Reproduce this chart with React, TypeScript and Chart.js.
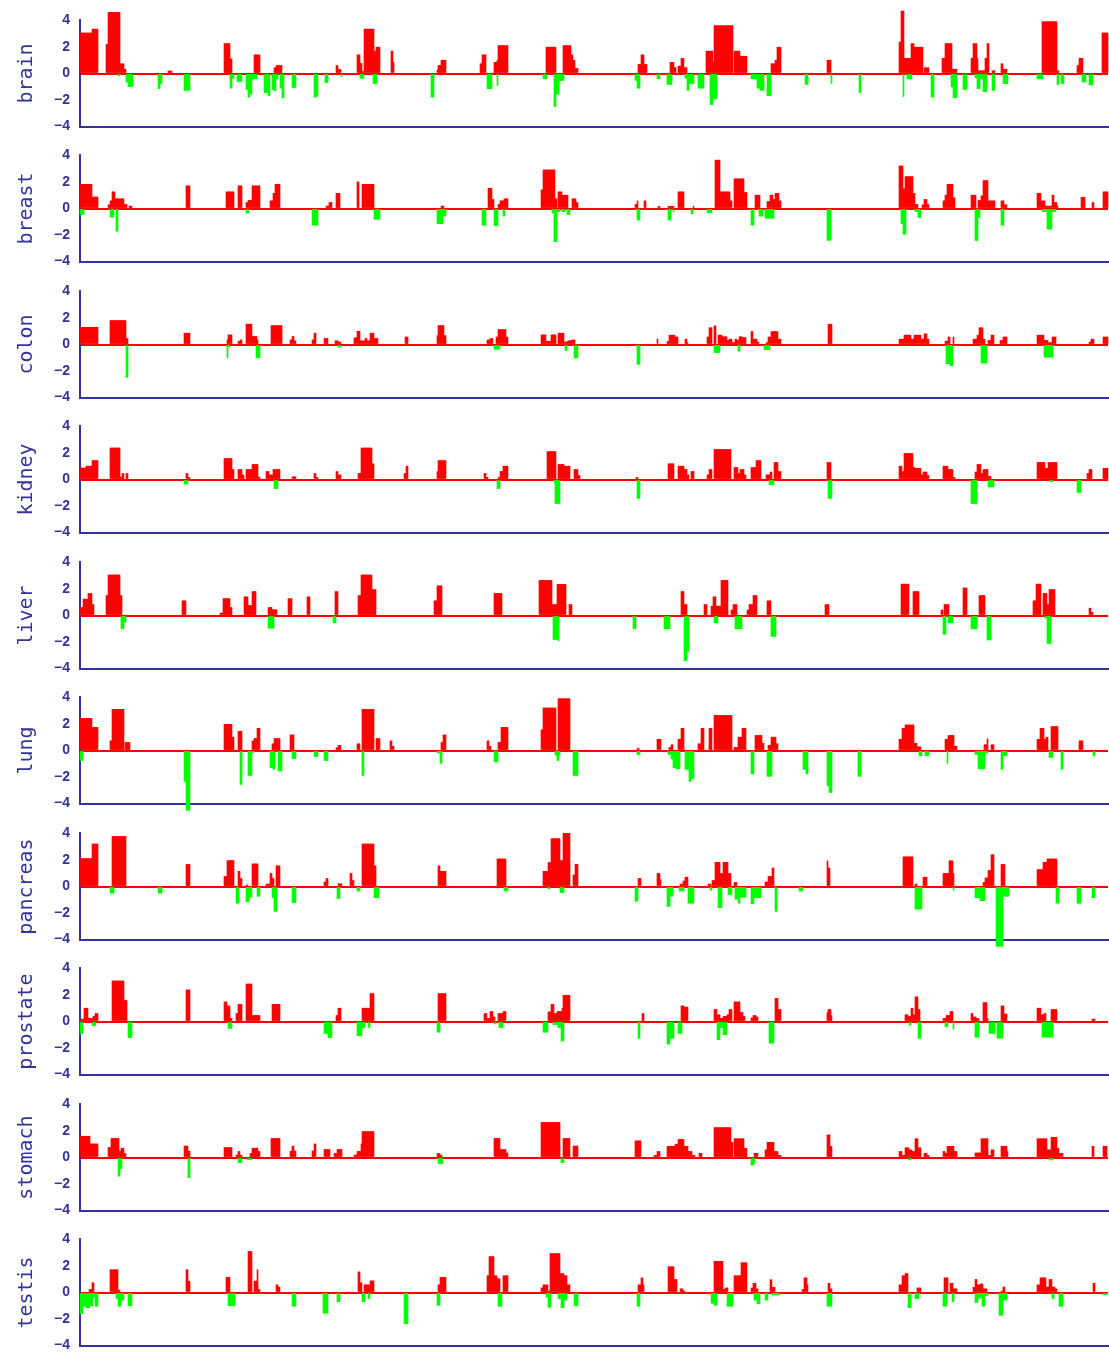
import React, { useEffect, useRef } from 'react';
import { Chart, registerables } from 'chart.js';

Chart.register(...registerables);

// ---- data -------------------------------------------------------------
// Genome position runs 0..genomeLength; each segment is [start, end, log-ratio].
const genomeLength = 1028;
const tissues = ['brain', 'breast', 'colon', 'kidney', 'liver', 'lung', 'pancreas', 'prostate', 'stomach', 'testis'];
const yTickValues = [4, 2, 0, -2, -4];
const yTickLabels = ['4', '2', '0', '\u22122', '\u22124'];

const brainGain = [[0,12,3.05],[12,18,3.34],[26,28,2.2],[28,40,4.6],[40,44,0.73],[44,46,0.32],[88,92,0.18],[144,150,2.25],[150,152,1.1],[174,180,1.4],[194,196,0.43],[196,202,0.6],[256,258,0.6],[258,261,0.3],[277,280,1.4],[280,282,0.77],[282,284,0.15],[284,294,3.34],[294,296,1.68],[296,300,1.98],[311,313,1.68],[313,314,0.84],[357,358,0.27],[358,361,0.6],[361,366,1.0],[400,402,0.73],[402,406,1.4],[414,417,0.84],[417,418,1.0],[418,428,2.1],[466,476,1.98],[483,491,2.1],[491,493,1.4],[493,495,1.0],[495,498,0.39],[558,561,0.68],[561,564,1.4],[564,567,0.68],[590,594,0.84],[594,596,0.45],[598,601,0.55],[601,604,1.14],[604,607,0.43],[626,633,1.68],[633,634,0.84],[634,653,3.6],[654,660,1.68],[660,667,1.3],[691,695,0.73],[695,697,1.0],[697,701,1.98],[747,751,1.0],[819,821,2.36],[821,824,4.7],[824,831,1.14],[831,834,2.25],[834,843,1.98],[844,849,0.43],[862,865,1.14],[865,872,2.25],[872,877,0.32],[891,893,1.14],[893,897,2.25],[897,898,1.14],[898,905,0.2],[905,907,1.14],[907,909,2.25],[912,915,0.2],[921,923,0.73],[923,927,0.32],[962,977,3.9],[977,979,0.2],[997,999,0.6],[999,1003,1.14],[1022,1028,3.05]];
const brainLoss = [[38,40,-0.18],[46,48,-0.64],[48,53,-0.98],[78,80,-1.14],[80,82,-0.75],[104,110,-1.27],[150,152,-1.1],[152,154,-0.36],[157,162,-0.6],[166,168,-1.2],[168,170,-1.77],[170,172,-1.55],[172,177,-0.4],[184,188,-1.43],[188,190,-1.66],[192,194,-1.2],[194,196,-1.3],[196,198,-0.4],[200,202,-1.1],[202,204,-1.84],[212,216,-1.05],[234,237,-1.77],[237,238,-1.66],[245,248,-0.68],[261,262,-0.23],[280,284,-0.36],[293,297,-0.75],[351,354,-1.77],[407,412,-1.14],[417,418,-0.9],[463,467,-0.4],[474,476,-2.5],[476,479,-1.55],[479,484,-0.52],[555,557,-0.52],[557,560,-1.1],[577,580,-0.4],[587,592,-0.82],[605,607,-0.36],[607,609,-1.27],[609,614,-0.75],[618,624,-1.1],[630,633,-2.34],[633,637,-1.9],[671,677,-0.4],[677,680,-1.1],[680,684,-1.27],[687,691,-1.66],[725,728,-0.82],[751,752,-0.75],[779,781,-1.43],[823,824,-1.73],[827,832,-0.4],[851,854,-1.77],[871,873,-1.0],[873,877,-1.82],[883,887,-1.2],[895,897,-0.3],[897,900,-1.14],[900,903,-0.4],[903,907,-1.36],[912,915,-1.27],[923,928,-0.75],[957,963,-0.4],[977,979,-0.82],[981,984,-0.75],[1002,1006,-0.64],[1009,1013,-0.86]];

const breastGain = [[0,12,1.82],[12,18,0.86],[28,30,0.27],[30,32,0.57],[32,35,1.25],[35,44,0.73],[44,47,0.3],[49,52,0.18],[106,110,1.7],[146,154,1.25],[158,162,1.7],[166,168,0.45],[168,172,0.61],[172,180,1.7],[190,193,0.57],[193,195,1.14],[195,200,1.82],[246,249,0.18],[249,252,0.45],[256,260,1.14],[277,279,2.0],[282,294,1.82],[361,364,0.18],[408,412,1.52],[412,414,0.68],[418,420,0.3],[420,424,0.57],[424,428,0.73],[461,463,1.4],[463,475,2.9],[475,477,0.73],[478,482,1.25],[482,488,1.0],[492,496,0.73],[496,498,0.45],[555,557,0.3],[557,558,0.57],[564,566,0.57],[578,580,0.16],[588,594,0.16],[598,604,1.25],[613,614,0.16],[635,640,3.64],[640,650,1.25],[650,652,0.57],[654,664,2.23],[664,667,1.2],[675,680,1.0],[687,690,0.52],[690,693,1.0],[693,695,0.68],[695,699,1.14],[699,701,0.57],[819,823,3.2],[823,825,1.48],[825,833,2.4],[833,835,1.14],[835,838,0.3],[842,844,0.27],[844,847,0.68],[847,849,0.3],[863,865,0.57],[865,867,1.0],[867,873,1.82],[873,875,0.8],[891,896,1.0],[898,901,0.6],[901,903,0.95],[903,908,2.1],[908,915,0.57],[921,924,0.57],[924,927,0.27],[957,961,1.14],[961,965,0.57],[965,972,0.18],[972,974,1.0],[974,977,0.45],[977,978,0.16],[1001,1005,0.84],[1012,1014,0.45],[1023,1028,1.25]];
const breastLoss = [[0,4,-0.45],[30,34,-0.64],[36,38,-1.7],[166,169,-0.34],[232,238,-1.25],[294,300,-0.8],[357,363,-1.14],[363,366,-0.57],[402,406,-1.25],[414,418,-1.3],[423,425,-0.57],[472,474,-0.34],[474,477,-2.5],[477,480,-0.23],[482,485,-0.23],[487,490,-0.45],[557,560,-0.86],[588,591,-0.86],[593,594,-0.23],[611,613,-0.4],[627,632,-0.3],[671,674,-1.25],[679,683,-0.57],[685,694,-0.73],[747,751,-2.4],[821,823,-1.14],[823,826,-1.93],[835,838,-0.23],[838,841,-0.68],[895,898,-2.4],[898,900,-0.68],[921,924,-1.25],[962,967,-0.23],[967,972,-1.55],[972,976,-0.23]];

const colonGain = [[0,18,1.3],[30,46,1.8],[46,48,0.45],[104,110,0.85],[147,148,0.34],[148,152,0.72],[158,160,0.23],[160,162,0.34],[166,172,1.53],[172,177,0.6],[177,178,0.34],[191,202,1.42],[210,212,0.34],[212,214,0.6],[214,216,0.27],[232,234,0.34],[234,236,0.85],[244,248,0.45],[255,258,0.27],[258,261,0.18],[274,277,0.5],[277,280,1.0],[280,285,0.27],[285,287,0.45],[287,290,0.27],[290,294,0.85],[294,298,0.45],[325,328,0.56],[357,358,0.67],[358,364,1.42],[364,366,0.67],[407,410,0.34],[410,413,0.45],[416,418,0.56],[418,426,1.12],[426,428,0.56],[461,466,0.72],[466,471,0.23],[471,476,0.72],[478,484,0.85],[484,487,0.18],[487,489,0.23],[489,492,0.3],[492,495,0.34],[577,578,0.4],[587,589,0.23],[589,595,0.7],[595,598,0.56],[605,607,0.4],[607,608,0.14],[627,629,0.56],[629,632,1.26],[634,636,1.4],[638,642,0.7],[642,647,0.58],[647,649,0.3],[649,652,0.4],[652,655,0.14],[655,657,0.4],[657,659,0.3],[659,662,0.58],[662,666,0.52],[671,673,0.97],[673,677,0.4],[677,679,0.18],[686,688,0.14],[688,691,0.56],[691,698,0.97],[698,701,0.4],[748,752,1.53],[819,824,0.4],[824,831,0.7],[831,834,0.4],[834,841,0.7],[841,844,0.4],[844,847,0.8],[847,849,0.4],[865,868,0.25],[868,870,0.56],[873,874,0.56],[893,897,0.4],[897,899,0.7],[899,903,1.26],[903,905,0.4],[908,911,0.3],[911,914,0.7],[920,923,0.3],[923,927,0.56],[957,964,0.7],[964,968,0.3],[968,972,0.14],[972,976,0.56],[1009,1011,0.18],[1011,1014,0.4],[1023,1028,0.56]];
const colonLoss = [[46,48,-2.47],[147,148,-1.0],[148,150,-0.18],[176,180,-1.0],[258,261,-0.2],[414,420,-0.34],[485,487,-0.45],[494,498,-1.0],[557,560,-1.5],[634,640,-0.6],[658,660,-0.5],[684,690,-0.38],[866,870,-1.45],[870,873,-1.6],[901,907,-1.4],[964,973,-0.95]];

const kidneyGain = [[0,6,0.86],[6,12,1.0],[12,18,1.42],[30,40,2.37],[40,42,0.18],[42,44,0.45],[46,48,0.45],[106,108,0.45],[108,110,0.16],[144,152,1.58],[152,154,0.75],[158,162,0.75],[162,164,0.34],[166,172,0.75],[172,178,1.13],[178,180,0.18],[186,189,0.6],[189,193,0.34],[193,200,0.75],[212,216,0.2],[234,236,0.45],[236,238,0.16],[256,258,0.6],[258,261,0.34],[278,281,0.45],[281,292,2.37],[292,294,1.18],[324,326,0.45],[326,328,1.0],[357,358,0.6],[358,366,1.42],[404,406,0.45],[406,408,0.16],[418,420,0.16],[420,423,0.6],[423,428,1.0],[467,476,2.1],[478,484,1.13],[484,490,1.0],[494,498,0.75],[498,500,0.3],[556,558,0.16],[588,594,1.18],[598,604,1.0],[604,607,0.75],[607,609,0.34],[611,614,0.6],[627,629,0.34],[629,632,0.75],[634,651,2.26],[654,658,0.9],[658,660,0.45],[660,664,0.75],[664,666,0.34],[671,676,0.9],[676,681,1.42],[686,690,0.34],[690,692,0.56],[694,698,1.28],[698,701,0.6],[747,751,1.28],[819,822,1.0],[822,824,0.6],[824,833,1.96],[833,835,0.9],[835,841,0.84],[841,843,0.34],[843,847,0.56],[847,849,0.3],[863,868,1.0],[868,873,0.75],[873,875,0.16],[895,897,0.56],[897,901,1.13],[901,903,0.45],[903,908,0.75],[908,911,0.23],[957,965,1.28],[965,968,0.84],[968,977,1.28],[1007,1009,0.45],[1009,1012,0.75],[1023,1028,0.84]];
const kidneyLoss = [[104,108,-0.34],[194,198,-0.68],[417,420,-0.68],[474,475,-0.23],[475,480,-1.8],[557,560,-1.42],[689,694,-0.38],[748,752,-1.42],[891,897,-1.8],[908,914,-0.56],[970,973,-0.16],[997,1001,-0.97]];

const liverGain = [[0,3,0.6],[3,8,1.23],[8,12,1.66],[12,14,0.82],[26,28,1.5],[28,40,3.05],[40,42,1.5],[102,106,1.1],[140,143,0.18],[143,150,1.27],[150,152,0.6],[164,168,1.4],[168,172,0.75],[172,176,1.8],[188,192,0.6],[192,197,0.43],[208,212,1.27],[227,230,1.4],[255,258,1.8],[278,281,1.5],[281,292,3.05],[292,296,1.95],[354,357,1.1],[357,362,2.23],[414,422,1.66],[459,472,2.64],[472,477,0.82],[477,486,2.34],[489,492,0.82],[601,604,1.8],[604,607,0.82],[624,627,0.82],[631,633,0.7],[633,636,1.4],[636,641,0.7],[641,648,2.64],[651,653,0.41],[653,657,0.82],[667,669,0.41],[669,673,0.82],[673,677,1.5],[687,691,1.1],[745,749,0.82],[821,829,2.36],[833,839,1.8],[861,863,0.41],[864,869,0.82],[883,887,2.07],[899,905,1.5],[953,956,1.1],[956,961,2.36],[963,967,1.66],[967,969,0.82],[969,975,1.95],[1009,1011,0.55],[1011,1013,0.25]];
const liverLoss = [[41,44,-1.0],[44,46,-0.5],[188,194,-0.95],[253,256,-0.55],[473,478,-1.8],[478,479,-1.9],[553,556,-1.0],[584,590,-1.0],[604,607,-3.4],[607,609,-2.7],[634,638,-0.55],[655,662,-1.0],[691,696,-1.57],[863,866,-1.4],[868,873,-0.55],[891,897,-1.0],[907,911,-1.84],[965,967,-0.2],[967,971,-2.1]];

const lungGain = [[0,12,2.42],[12,18,1.74],[30,32,0.72],[32,44,3.1],[45,50,0.6],[144,152,1.97],[152,154,1.0],[158,162,1.45],[172,174,0.72],[174,177,0.9],[177,180,1.67],[192,194,0.5],[194,200,0.9],[210,214,1.17],[256,258,0.2],[258,261,0.38],[277,280,0.5],[282,294,3.1],[296,300,0.9],[310,312,0.72],[312,314,0.32],[361,363,0.6],[363,366,1.17],[407,409,0.72],[409,411,0.32],[418,421,0.6],[421,428,1.74],[461,463,1.56],[463,476,3.2],[478,490,3.9],[557,559,0.16],[577,581,0.84],[589,591,0.23],[591,593,0.43],[598,601,0.84],[601,604,1.67],[618,621,0.5],[621,624,1.67],[629,632,1.67],[634,652,2.64],[654,658,0.23],[658,662,1.0],[662,666,1.67],[675,682,1.13],[682,684,0.54],[688,691,0.4],[691,696,1.0],[696,698,0.5],[819,822,0.84],[822,825,1.67],[825,834,1.92],[834,837,0.54],[837,841,0.27],[865,868,0.84],[868,874,1.13],[874,877,0.32],[904,907,0.43],[907,908,0.88],[911,914,0.43],[957,960,0.84],[960,964,1.67],[964,966,0.84],[966,968,1.0],[971,978,1.8],[999,1003,0.72]];
const lungLoss = [[0,3,-0.75],[104,106,-2.33],[106,110,-4.5],[160,162,-2.55],[168,172,-1.87],[172,174,-0.14],[190,193,-1.3],[193,195,-1.42],[198,202,-1.54],[212,216,-0.6],[234,238,-0.45],[244,248,-0.75],[282,284,-1.87],[357,360,-0.18],[360,362,-0.97],[414,418,-0.86],[475,477,-0.34],[477,479,-0.75],[479,480,-0.34],[493,498,-1.87],[557,560,-0.3],[588,591,-0.3],[591,593,-0.63],[593,596,-1.3],[596,600,-1.38],[605,609,-1.42],[609,611,-2.33],[611,614,-2.1],[671,674,-1.76],[687,692,-1.94],[723,726,-1.42],[726,728,-1.76],[747,749,-2.67],[749,752,-3.16],[778,781,-1.94],[839,842,-0.4],[845,849,-0.4],[867,868,-0.97],[895,898,-0.3],[898,905,-1.38],[905,908,-0.18],[921,923,-1.42],[923,927,-0.4],[969,973,-0.52],[981,983,-1.42],[1013,1015,-0.4]];

const pancreasGain = [[0,12,2.1],[12,18,3.2],[32,46,3.77],[106,110,1.66],[144,147,0.75],[147,154,1.95],[158,160,1.14],[160,162,0.6],[166,168,0.11],[172,178,1.7],[186,190,0.18],[190,192,0.98],[192,194,0.6],[196,200,1.55],[244,246,0.34],[246,248,0.6],[258,262,0.2],[270,272,0.98],[272,274,0.45],[282,294,3.2],[294,296,1.55],[358,360,1.55],[360,366,1.14],[417,426,2.07],[463,468,1.14],[468,471,1.8],[471,480,3.6],[480,483,1.95],[483,490,4.0],[493,495,0.86],[495,498,1.66],[558,561,0.6],[577,580,0.98],[580,581,0.5],[600,603,0.18],[603,605,0.41],[605,608,0.7],[628,631,0.18],[632,635,0.45],[635,640,1.82],[640,643,0.98],[643,648,1.82],[648,651,0.98],[654,657,0.3],[685,688,0.34],[688,692,0.75],[692,694,1.39],[747,748,1.93],[748,750,1.39],[823,833,2.23],[835,837,0.18],[843,847,0.7],[863,869,0.98],[869,873,1.93],[873,874,0.98],[903,905,0.3],[905,908,0.64],[908,911,1.2],[911,914,2.39],[921,925,1.66],[957,963,1.27],[963,967,1.82],[967,977,2.07]];
const pancreasLoss = [[30,34,-0.5],[78,82,-0.5],[156,159,-1.25],[166,169,-1.14],[169,172,-0.8],[177,180,-0.73],[192,194,-0.84],[194,197,-1.86],[212,216,-1.2],[257,260,-0.9],[277,280,-0.34],[294,299,-0.84],[424,428,-0.34],[468,470,-0.16],[480,484,-0.45],[555,558,-1.1],[587,590,-1.5],[590,593,-0.73],[599,604,-0.34],[608,614,-1.25],[630,632,-0.27],[638,642,-1.6],[648,652,-0.6],[655,658,-0.95],[658,660,-1.25],[660,666,-0.8],[671,674,-1.3],[674,681,-0.84],[695,697,-1.86],[719,723,-0.34],[835,842,-1.7],[873,874,-0.27],[895,900,-0.84],[900,905,-1.07],[916,923,-4.5],[923,929,-0.73],[976,979,-1.25],[997,1001,-1.25],[1012,1015,-0.84]];

const prostateGain = [[0,4,0.18],[4,8,1.0],[8,13,0.23],[13,15,0.4],[15,18,0.6],[32,44,3.05],[44,47,1.58],[106,110,2.37],[144,147,1.47],[147,150,1.17],[150,152,0.23],[156,158,0.6],[158,162,1.29],[166,172,2.82],[172,180,0.45],[192,200,1.29],[256,258,0.45],[258,261,1.0],[282,290,1.0],[290,294,2.1],[358,366,2.1],[404,407,0.6],[407,410,0.23],[410,413,0.75],[413,415,0.34],[418,423,0.6],[423,426,0.75],[468,471,0.72],[471,474,1.29],[474,477,0.6],[477,482,0.75],[482,483,1.0],[483,490,1.97],[562,564,0.6],[601,604,1.17],[604,608,1.08],[634,637,0.9],[637,640,0.5],[640,643,0.23],[643,647,0.38],[647,649,0.5],[649,652,0.9],[654,660,1.47],[660,663,0.68],[663,665,0.38],[671,673,0.27],[673,676,0.45],[676,678,0.34],[695,698,1.74],[698,701,0.9],[747,748,0.68],[748,751,0.9],[751,752,0.45],[825,828,0.5],[828,831,0.38],[831,833,1.0],[833,835,0.5],[835,838,1.85],[838,840,0.9],[863,866,0.23],[866,870,0.45],[870,873,0.75],[891,893,0.6],[893,896,0.34],[896,899,0.23],[903,907,1.42],[907,908,0.23],[921,924,1.17],[924,927,0.56],[957,961,1.0],[961,964,0.5],[964,966,0.6],[971,977,0.9],[1012,1015,0.18]];
const prostateLoss = [[0,3,-0.9],[12,16,-0.3],[48,52,-1.2],[148,152,-0.52],[244,248,-0.9],[248,252,-1.2],[277,282,-1.08],[282,285,-0.45],[288,290,-0.45],[357,360,-0.8],[414,416,-0.18],[419,423,-0.45],[463,468,-0.8],[473,478,-0.23],[478,481,-0.45],[481,484,-1.47],[558,560,-1.25],[587,590,-1.7],[590,594,-1.25],[598,602,-0.9],[637,640,-1.36],[640,643,-0.45],[643,647,-1.0],[689,694,-1.63],[829,831,-0.27],[838,841,-1.25],[865,868,-0.4],[873,874,-0.57],[895,899,-1.18],[909,915,-0.9],[917,923,-1.25],[962,973,-1.18]];

const stomachGain = [[0,10,1.6],[10,18,1.02],[28,31,0.75],[31,39,1.43],[39,41,0.48],[41,44,0.7],[44,46,0.3],[104,108,0.86],[108,110,0.48],[144,152,0.75],[156,158,0.18],[158,160,0.45],[160,162,0.18],[170,172,0.3],[172,178,0.7],[178,180,0.45],[191,200,1.43],[210,212,0.48],[212,214,0.86],[214,216,0.48],[232,234,0.48],[234,236,1.02],[244,250,0.6],[254,257,0.3],[257,262,0.6],[274,277,0.18],[277,281,0.45],[281,282,1.02],[282,294,1.95],[357,360,0.3],[360,362,0.18],[414,420,1.43],[420,426,0.6],[426,428,0.34],[461,480,2.64],[483,490,1.43],[493,498,0.86],[555,561,1.25],[574,577,0.16],[577,580,0.45],[587,595,0.84],[595,598,1.0],[598,604,1.36],[604,608,0.84],[608,612,0.45],[612,615,0.16],[619,622,0.32],[634,651,2.25],[651,653,1.14],[654,664,1.41],[664,667,0.68],[674,678,0.32],[685,687,0.57],[687,694,1.14],[694,698,0.45],[698,701,0.16],[747,750,1.7],[750,752,0.84],[819,822,0.45],[822,825,0.16],[825,829,0.73],[829,832,0.57],[832,835,0.45],[835,838,1.41],[838,841,0.73],[844,847,0.32],[847,849,0.16],[863,865,0.45],[865,867,0.32],[867,874,0.84],[874,877,0.45],[895,901,0.34],[901,908,1.41],[908,911,0.16],[911,914,0.57],[921,927,0.84],[927,928,0.45],[957,967,1.41],[967,971,0.57],[971,977,1.52],[977,979,0.68],[979,983,0.32],[1012,1014,0.84],[1023,1027,0.84]];
const stomachLoss = [[38,40,-1.4],[40,42,-0.84],[108,110,-1.52],[158,162,-0.39],[167,172,-0.16],[358,363,-0.45],[481,484,-0.39],[671,674,-0.57],[674,675,-0.41],[828,831,-0.18],[969,973,-0.18]];

const testisGain = [[9,12,0.23],[12,14,0.73],[30,38,1.71],[38,40,0.18],[106,108,1.71],[108,110,0.85],[146,150,1.14],[168,172,3.09],[174,177,0.85],[177,178,1.71],[178,180,0.23],[196,198,0.57],[198,200,0.41],[278,280,1.55],[280,282,0.73],[284,290,0.57],[290,294,0.87],[358,360,0.57],[360,366,1.14],[407,409,1.26],[409,414,2.7],[414,417,1.26],[417,420,1.03],[423,428,1.26],[461,463,0.34],[463,468,0.57],[468,470,0.11],[470,480,2.93],[480,484,1.42],[484,487,1.26],[487,490,0.57],[558,561,0.57],[561,563,1.1],[563,564,0.57],[588,594,1.94],[594,597,0.98],[600,603,0.27],[603,605,0.11],[634,643,2.35],[643,645,0.23],[645,648,0.34],[654,661,1.26],[661,667,2.24],[671,673,0.34],[673,676,0.69],[676,678,0.27],[690,692,0.96],[692,695,0.39],[722,724,0.23],[724,727,1.1],[727,728,0.57],[748,750,0.69],[750,752,0.27],[819,822,0.57],[822,825,1.26],[825,828,1.42],[837,841,0.34],[864,868,1.1],[870,873,0.69],[873,877,0.27],[893,895,0.39],[895,897,0.98],[897,900,0.57],[900,903,0.64],[903,907,0.27],[921,923,0.11],[923,925,0.41],[957,960,0.57],[960,966,1.1],[966,969,0.41],[969,972,0.98],[972,975,0.41],[975,977,0.27],[1013,1015,0.69]];
const testisLoss = [[0,3,-1.6],[3,6,-1.03],[6,10,-1.14],[10,13,-1.0],[13,15,-0.34],[15,18,-1.03],[36,38,-0.46],[38,41,-1.03],[41,44,-0.57],[48,52,-1.0],[148,155,-1.0],[212,216,-1.03],[243,248,-1.55],[257,260,-0.69],[282,285,-0.69],[288,290,-0.46],[324,328,-2.35],[357,360,-0.96],[418,422,-1.03],[466,468,-0.34],[468,471,-1.1],[478,481,-0.46],[481,484,-1.14],[484,487,-0.57],[494,498,-1.0],[557,560,-1.03],[631,634,-0.8],[634,637,-0.96],[647,653,-1.03],[674,677,-0.57],[677,680,-0.85],[685,688,-0.57],[692,700,-0.18],[747,752,-1.03],[828,831,-1.14],[835,839,-0.46],[863,867,-1.03],[872,874,-0.69],[895,898,-0.75],[898,902,-0.41],[902,905,-1.03],[905,908,-0.23],[919,923,-1.71],[923,927,-0.57],[972,974,-0.46],[979,983,-1.03],[1023,1027,-0.16]];

const gainSeries = [brainGain, breastGain, colonGain, kidneyGain, liverGain, lungGain, pancreasGain, prostateGain, stomachGain, testisGain];
const lossSeries = [brainLoss, breastLoss, colonLoss, kidneyLoss, liverLoss, lungLoss, pancreasLoss, prostateLoss, stomachLoss, testisLoss];

// ---- styling ----------------------------------------------------------
const NAVY = '#333399';
const GAIN_COLOR = '#ff0000';
const LOSS_COLOR = '#00ff00';
const PAGE_W = 1109;
const PAGE_H = 1357;
const PANEL_STEP = 135.5;
const FIRST_TOP = 15.5;
const PAD = 14;
const PLOT_H = 115;
const CANVAS_H = PAD * 2 + PLOT_H;

function toBins(segs: number[][]): (number | null)[] {
  const arr: (number | null)[] = new Array(genomeLength).fill(null);
  for (const [s, e, v] of segs) {
    for (let i = Math.max(0, s); i < Math.min(genomeLength, e); i++) arr[i] = v;
  }
  return arr;
}

const positions = Array.from({ length: genomeLength }, (_, i) => String(i));

function Panel({ name, gain, loss, top }: { name: string; gain: number[][]; loss: number[][]; top: number }) {
  const ref = useRef<HTMLCanvasElement>(null);
  useEffect(() => {
    const canvas = ref.current;
    if (!canvas) return;
    const barBase = {
      grouped: false,
      categoryPercentage: 1,
      barPercentage: 1,
      borderWidth: 0,
      clip: false as const,
    };
    const chart = new Chart(canvas, {
      type: 'bar',
      data: {
        labels: positions,
        datasets: [
          { ...barBase, label: 'gain', data: toBins(gain), backgroundColor: GAIN_COLOR },
          { ...barBase, label: 'loss', data: toBins(loss), backgroundColor: LOSS_COLOR },
        ],
      },
      options: {
        animation: false,
        responsive: false,
        devicePixelRatio: 1,
        events: [],
        layout: { padding: { top: PAD, bottom: PAD, left: 0, right: 1 } },
        plugins: { legend: { display: false }, tooltip: { enabled: false }, title: { display: false } },
        scales: {
          x: {
            type: 'category',
            display: true,
            grid: { display: false, drawTicks: false, tickLength: 0 },
            ticks: { display: false },
            border: { display: true, color: NAVY, width: 2 },
          },
          y: {
            type: 'linear',
            min: -4,
            max: 4,
            z: 1,
            afterFit: (s: any) => { s.width = 80; },
            afterBuildTicks: (s: any) => { s.ticks = yTickValues.map((v) => ({ value: v })); },
            ticks: {
              color: NAVY,
              padding: 10,
              font: { family: 'Liberation Sans', size: 14, weight: 'bold' },
              callback: (v: any) => {
                const i = yTickValues.indexOf(Number(v));
                return i >= 0 ? yTickLabels[i] : '';
              },
            },
            grid: {
              drawTicks: false,
              tickLength: 0,
              lineWidth: 2,
              color: (ctx: any) => (ctx.tick && ctx.tick.value === 0 ? GAIN_COLOR : 'rgba(0,0,0,0)'),
            },
            border: { display: true, color: NAVY, width: 2 },
            title: {
              display: true,
              text: name,
              color: NAVY,
              font: { family: 'DejaVu Sans Mono', size: 20, weight: 'normal' },
              padding: { top: 15, bottom: 0 },
            },
          },
        },
      },
    } as any);
    return () => chart.destroy();
  }, [name, gain, loss]);
  return (
    <canvas
      ref={ref}
      width={PAGE_W}
      height={CANVAS_H}
      style={{ position: 'absolute', left: 0, top, width: PAGE_W, height: CANVAS_H, display: 'block' }}
    />
  );
}

export default function App() {
  return (
    <div style={{ position: 'absolute', left: 0, top: 0, width: PAGE_W, height: PAGE_H, background: '#ffffff', overflow: 'hidden' }}>
      {tissues.map((name, i) => (
        <Panel
          key={name}
          name={name}
          gain={gainSeries[i]}
          loss={lossSeries[i]}
          top={Math.round(FIRST_TOP + PANEL_STEP * i) - PAD}
        />
      ))}
    </div>
  );
}
